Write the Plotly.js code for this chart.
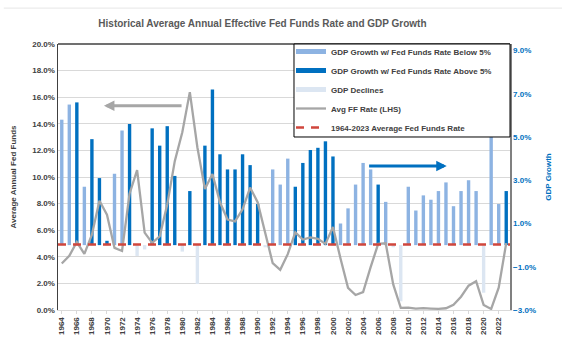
<!DOCTYPE html>
<html>
<head>
<meta charset="utf-8">
<script src="https://cdn.plot.ly/plotly-3.0.1.min.js"></script>
<style>html,body{margin:0;padding:0;background:#fff;}</style>
</head>
<body>
<div id="chart" style="width:562px;height:363px;"></div>
<script>
// ---- data ----
const years = [1964,1965,1966,1967,1968,1969,1970,1971,1972,1973,
  1974,1975,1976,1977,1978,1979,1980,1981,1982,1983,
  1984,1985,1986,1987,1988,1989,1990,1991,1992,1993,
  1994,1995,1996,1997,1998,1999,2000,2001,2002,2003,
  2004,2005,2006,2007,2008,2009,2010,2011,2012,2013,
  2014,2015,2016,2017,2018,2019,2020,2021,2022,2023];
// Real GDP growth (%), right axis
const gdpGrowth = [5.8,6.5,6.6,2.7,4.9,3.1,0.2,3.3,5.3,5.6,
  -0.5,-0.2,5.4,4.6,5.5,3.2,-0.3,2.5,-1.8,4.6,
  7.2,4.2,3.5,3.5,4.2,3.7,1.9,-0.1,3.5,2.8,
  4.0,2.7,3.8,4.4,4.5,4.8,4.1,1.0,1.7,2.8,
  3.8,3.5,2.8,2.0,-0.1,-2.6,2.7,1.6,2.3,2.1,
  2.5,2.9,1.8,2.5,3.0,2.5,-2.2,6.1,1.9,2.5];
// Bar group: B = FF rate below 5%, A = above 5%, D = GDP decline
const gdpGroup = ['B','B','A','B','A','A','A','B','B','A',
  'D','D','A','A','A','A','D','A','D','A',
  'A','A','A','A','A','A','A','D','B','B',
  'B','A','A','A','A','A','A','B','B','B',
  'B','B','A','B','D','D','B','B','B','B',
  'B','B','B','B','B','B','D','B','B','A'];
// Average annual effective Fed Funds rate (%), left axis
const ffRate = [3.50,4.07,5.11,4.22,5.66,8.21,7.17,4.67,4.44,8.74,
  10.51,5.82,5.05,5.54,7.93,11.19,13.36,16.38,12.24,9.09,
  10.23,8.10,6.80,6.66,7.57,9.21,8.10,5.69,3.52,3.02,
  4.20,5.84,5.30,5.46,5.35,4.97,6.24,3.88,1.67,1.13,
  1.35,3.22,4.97,5.02,1.92,0.16,0.18,0.10,0.14,0.11,
  0.09,0.13,0.40,1.00,1.83,2.16,0.38,0.08,1.68,5.03];
const xTickVals = [1964,1966,1968,1970,1972,1974,1976,1978,1980,1982,1984,1986,1988,1990,
  1992,1994,1996,1998,2000,2002,2004,2006,2008,2010,2012,2014,2016,2018,2020,2022];
const xTickText = xTickVals.map(String);
const seriesNames = {
  B: 'GDP Growth w/ Fed Funds Rate Below 5%',
  A: 'GDP Growth w/ Fed Funds Rate Above 5%',
  D: 'GDP Declines'
};
const ffName = 'Avg FF Rate (LHS)';
const avgName = '1964-2023 Average Fed Funds Rate';
const titleText = 'Historical Average Annual Effective Fed Funds Rate and GDP Growth';

// ---- derived ----
const ffAvg = ffRate.reduce((a,b)=>a+b,0)/ffRate.length;
const colors = {B:'#8DB3E2', A:'#0070C0', D:'#DCE6F2'};
const FONT = 'Liberation Sans, Arial, sans-serif';

const traces = [];
['B','A','D'].forEach((g)=>{
  traces.push({
    type:'bar', name:seriesNames[g], showlegend:false,
    x: years, y: gdpGrowth.map((v,k)=> gdpGroup[k]===g ? v : null),
    marker:{color:colors[g], line:{width:0}}, width:0.45,
    yaxis:'y', hoverinfo:'x+y'
  });
});
// legend keys for the bar series (wide flat swatches like the original)
['B','A','D'].forEach((g)=>{
  traces.push({
    type:'scatter', mode:'lines', name:seriesNames[g],
    x:[null], y:[null], yaxis:'y', line:{color:colors[g], width:5}, hoverinfo:'skip'
  });
});
traces.push({
  type:'scatter', mode:'lines', name:ffName,
  x: years, y: ffRate, yaxis:'y2',
  line:{color:'#A6A6A6', width:2.3}
});
traces.push({
  type:'scatter', mode:'lines', name:avgName,
  x:[years[0]-0.5, years[years.length-1]+0.5], y:[ffAvg, ffAvg], yaxis:'y2',
  line:{color:'#D0463C', width:2.5, dash:'8px,7px'}
});

const layout = {
  width:562, height:363,
  margin:{l:58, r:52, t:44, b:53},
  paper_bgcolor:'#fff', plot_bgcolor:'#fff',
  font:{family:FONT, size:8, color:'#404040', weight:700},
  showlegend:true,
  barmode:'overlay',
  title:{text:titleText, font:{family:FONT, size:10, color:'#595959', weight:700},
    x:0.467, xanchor:'center', y:0.935, yanchor:'middle'},
  xaxis:{range:[years[0]-0.5, years[years.length-1]+0.5], tickvals:xTickVals, ticktext:xTickText,
    tickangle:-90, showgrid:false, zeroline:false, showline:true, linecolor:'#D9D9D9', linewidth:1,
    ticks:'outside', ticklen:3, tickcolor:'#D9D9D9', tickfont:{size:8, color:'#404040'}},
  yaxis:{side:'right', range:[-3, 9.3], tick0:-3, dtick:2, tickformat:'.1f', ticksuffix:'%',
    tickfont:{size:8, color:'#0070C0'}, showgrid:false, zeroline:false,
    showline:true, linecolor:'#808080', linewidth:1.5,
    title:{text:'GDP Growth', font:{size:8, color:'#0070C0'}, standoff:10}},
  yaxis2:{overlaying:'y', side:'left', range:[0,20], tick0:0, dtick:2, tickformat:'.1f', ticksuffix:'%',
    tickfont:{size:8, color:'#404040'}, showgrid:true, gridcolor:'#D9D9D9', gridwidth:1,
    zeroline:false, showline:true, linecolor:'#404040', linewidth:1.5,
    title:{text:'Average Annual Fed Funds', font:{size:8, color:'#404040'}, standoff:14}},
  legend:{x:0.5155, xanchor:'left', y:1.0263, yanchor:'top', bgcolor:'rgba(0,0,0,0)', borderwidth:0,
    font:{size:8, color:'#404040'}, traceorder:'normal', itemwidth:30},
  shapes:[
    {type:'line', xref:'paper', yref:'paper', x0:0, x1:1, y0:1, y1:1, line:{color:'#404040', width:1.5}},
    {type:'line', xref:'paper', yref:'paper', x0:-0.12, x1:1.12, y0:1.135, y1:1.135, line:{color:'#E6E6E6', width:1}},
    // legend frame
    {type:'rect', xref:'paper', yref:'paper', x0:0.5221, x1:1, y0:0.6504, y1:1, layer:'above',
      fillcolor:'#fff', line:{color:'#000', width:1}}
  ],
  annotations:[
    {xref:'x', yref:'y2', axref:'x', ayref:'y2', x:1969.6, y:15.35, ax:1980.1, ay:15.35,
      text:'', showarrow:true, arrowhead:2, arrowsize:0.7, arrowwidth:3, arrowcolor:'#A6A6A6'},
    {xref:'x', yref:'y2', axref:'x', ayref:'y2', x:2015.1, y:10.83, ax:2004.6, ay:10.83,
      text:'', showarrow:true, arrowhead:2, arrowsize:0.7, arrowwidth:3, arrowcolor:'#0070C0'}
  ]
};
Plotly.newPlot('chart', traces, layout, {displayModeBar:false, staticPlot:true});
</script>
</body>
</html>
